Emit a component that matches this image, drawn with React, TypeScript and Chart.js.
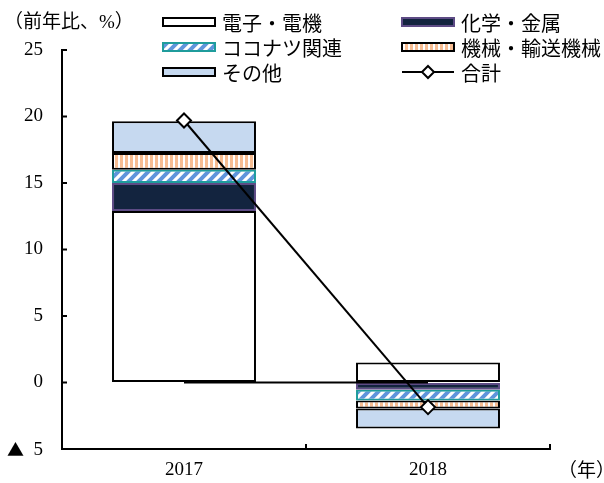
import React, { useEffect, useRef } from 'react';
import { Chart, registerables } from 'chart.js';

Chart.register(...registerables);

const years = ['2017', '2018'];
const electronics = [12.9, 1.5];
const chemMetal = [2.1, -0.55];
const coconut = [1.0, -0.8];
const machinery = [1.25, -0.6];
const others = [2.4, -1.5];
const total = [19.7, -1.85];
const zeroLine = [0, 0];
const yTickValues = [-5, 0, 5, 10, 15, 20, 25];

const legendNames = ['電子・電機', '化学・金属', 'ココナツ関連', '機械・輸送機械', 'その他', '合計'];

const SERIF = '"Liberation Serif", "Noto Sans CJK JP", serif';
const JP = '"Noto Sans CJK JP", sans-serif';

function makeHatch(): HTMLCanvasElement {
  const c = document.createElement('canvas');
  c.width = 10;
  c.height = 10;
  const g = c.getContext('2d')!;
  g.fillStyle = '#ffffff';
  g.fillRect(0, 0, 10, 10);
  g.strokeStyle = '#5f95dc';
  g.lineWidth = 4;
  g.beginPath();
  g.moveTo(-2, 12);
  g.lineTo(12, -2);
  g.moveTo(-7, 7);
  g.lineTo(7, -7);
  g.moveTo(3, 17);
  g.lineTo(17, 3);
  g.stroke();
  return c;
}

function makeVStripe(): HTMLCanvasElement {
  const c = document.createElement('canvas');
  c.width = 5;
  c.height = 5;
  const g = c.getContext('2d')!;
  g.fillStyle = '#ffffff';
  g.fillRect(0, 0, 5, 5);
  g.fillStyle = '#f7bd92';
  g.fillRect(0, 0, 3, 5);
  return c;
}

export default function App() {
  const ref = useRef<HTMLCanvasElement | null>(null);

  useEffect(() => {
    const canvas = ref.current!;
    const ctx = canvas.getContext('2d')!;
    const hatch = ctx.createPattern(makeHatch(), 'repeat')!;
    const stripe = ctx.createPattern(makeVStripe(), 'repeat')!;

    const styles = [
      { fill: '#ffffff', border: '#000000' },
      { fill: '#13243f', border: '#5d4b85' },
      { fill: hatch, border: '#1f9c9c' },
      { fill: stripe, border: '#000000' },
      { fill: '#c6d9f0', border: '#000000' },
    ];

    const barData = [electronics, chemMetal, coconut, machinery, others];

    const decor = {
      id: 'decor',
      afterDraw(chart: any) {
        const { ctx: c, chartArea, scales } = chart;
        c.save();
        c.strokeStyle = '#000';
        c.lineWidth = 2;
        const ln = (x1: number, y1: number, x2: number, y2: number) => {
          c.beginPath();
          c.moveTo(x1, y1);
          c.lineTo(x2, y2);
          c.stroke();
        };
        yTickValues.forEach((v) => {
          const y = scales.y.getPixelForValue(v);
          ln(chartArea.left, y, chartArea.left + 5, y);
        });
        [chartArea.left, (chartArea.left + chartArea.right) / 2, chartArea.right].forEach((x) => {
          ln(x, chartArea.bottom, x, chartArea.bottom - 5);
        });

        c.fillStyle = '#000';
        c.textBaseline = 'middle';
        c.textAlign = 'left';
        c.font = `19px ${SERIF}`;
        c.fillText('（前年比、%）', 4, 23);
        c.fillText('（年）', 558, 472);

        // negative tick label
        const yNeg = scales.y.getPixelForValue(-5);
        c.font = `17px ${JP}`;
        c.fillText('▲', 7, yNeg + 1);
        c.textAlign = 'right';
        c.font = `19px ${SERIF}`;
        c.fillText('5', 43, yNeg + 1);
        c.textAlign = 'left';

        // legend
        const cols = [163, 402];
        const rows = [22, 47, 72];
        const sw = 52;
        const sh = 8;
        c.font = `20px ${JP}`;
        for (let i = 0; i < 6; i++) {
          const x = cols[i % 2];
          const y = rows[Math.floor(i / 2)];
          if (i < 5) {
            const s = styles[i];
            c.fillStyle = s.fill;
            c.fillRect(x, y - sh / 2, sw, sh);
            c.strokeStyle = s.border;
            c.lineWidth = 2;
            c.strokeRect(x, y - sh / 2, sw, sh);
          } else {
            c.strokeStyle = '#000';
            c.lineWidth = 2;
            ln(x, y, x + sw, y);
            const cx = x + sw / 2;
            c.beginPath();
            c.moveTo(cx, y - 6);
            c.lineTo(cx + 6, y);
            c.lineTo(cx, y + 6);
            c.lineTo(cx - 6, y);
            c.closePath();
            c.fillStyle = '#fff';
            c.fill();
            c.stroke();
          }
          c.fillStyle = '#000';
          c.fillText(legendNames[i], x + sw + 7, y + 1);
        }
        c.restore();
      },
    };

    const datasets: any[] = barData.map((d, i) => ({
      type: 'bar',
      label: legendNames[[0, 1, 2, 3, 4][i]],
      data: d,
      backgroundColor: styles[i].fill,
      borderColor: styles[i].border,
      borderWidth: 2,
      borderSkipped: false,
      stack: 'main',
      order: 2,
      categoryPercentage: 1,
      barPercentage: 0.59,
    }));
    datasets.push({
      type: 'line',
      label: 'zero',
      data: zeroLine,
      borderColor: '#000',
      borderWidth: 2,
      pointRadius: 0,
      stack: 'zero',
      order: 1,
    });
    datasets.push({
      type: 'line',
      label: legendNames[5],
      data: total,
      borderColor: '#000',
      borderWidth: 2,
      pointStyle: 'rectRot',
      pointRadius: 7,
      pointBackgroundColor: '#fff',
      pointBorderColor: '#000',
      pointBorderWidth: 2,
      stack: 'total',
      order: 0,
    });

    const chart = new Chart(ctx, {
      type: 'bar',
      data: { labels: years, datasets },
      options: {
        animation: false,
        responsive: false,
        layout: { padding: { left: 0, top: 50, right: 54, bottom: 0 } },
        plugins: { legend: { display: false }, tooltip: { enabled: false } },
        scales: {
          x: {
            stacked: true,
            offset: true,
            grid: { display: true, drawOnChartArea: false, drawTicks: false },
            border: { display: true, color: '#000', width: 2 },
            ticks: { color: '#000', font: { family: SERIF, size: 19 }, padding: 10 },
            afterFit: (s: any) => {
              s.height = 34;
            },
          },
          y: {
            stacked: true,
            min: -5,
            max: 25,
            grid: { display: true, drawOnChartArea: false, drawTicks: false },
            border: { display: true, color: '#000', width: 2 },
            ticks: {
              stepSize: 5,
              color: '#000',
              padding: 19,
              font: { family: SERIF, size: 19 },
              callback: (v: any) => (v < 0 ? '' : String(v)),
            },
            afterFit: (s: any) => {
              s.width = 62;
            },
          },
        },
      },
      plugins: [decor],
    } as any);

    return () => chart.destroy();
  }, []);

  return (
    <div style={{ position: 'absolute', left: 0, top: 0, width: 604, height: 483 }}>
      <canvas ref={ref} width={604} height={483} style={{ display: 'block' }} />
    </div>
  );
}
